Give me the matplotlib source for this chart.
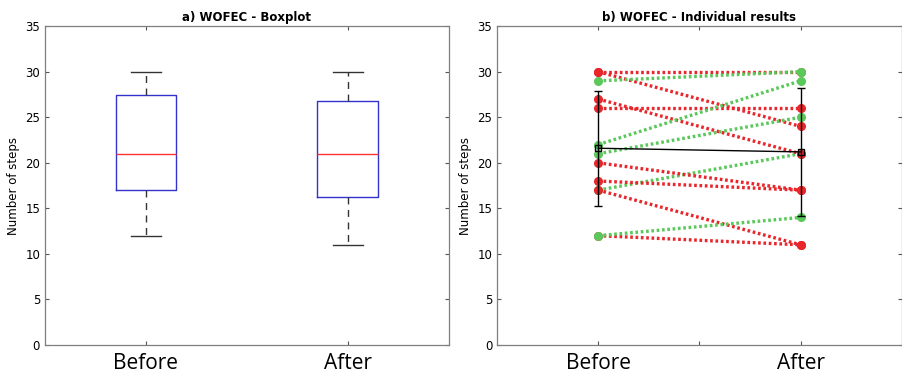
import matplotlib.pyplot as plt

# box statistics
groups = ["Before", "After"]
q1 = [17.0, 16.3]
q3 = [27.5, 26.8]
medians = [21.0, 21.0]
whisk_lo = [12, 11]
whisk_hi = [30, 30]

# individual subjects (before -> after)
before = [17, 30, 30, 27, 26, 20, 18, 17, 12, 29, 22, 21, 12]
after = [21, 30, 24, 21, 26, 17, 17, 11, 11, 30, 29, 25, 14]

# mean and error bars from the right panel
means = [21.6, 21.2]
errs = [6.3, 7.0]

RED = "#e8262b"
GREEN = "#5ac85a"

fig = plt.figure(figsize=(9.03, 3.80), dpi=100)
ax1 = fig.add_axes([0.0498, 0.0921, 0.447, 0.839])
ax2 = fig.add_axes([0.5505, 0.0921, 0.448, 0.839])


def style(ax):
    ax.set_ylim(0, 35)
    ax.set_xlim(0.5, 2.5)
    ax.set_yticks(range(0, 36, 5))
    ax.tick_params(direction="in", top=True, right=True, length=3,
                   color="#555555", labelsize=8.5)
    ax.tick_params(axis="x", labelsize=15, pad=6)
    for s in ax.spines.values():
        s.set_color("#7f7f7f")
        s.set_linewidth(0.9)
    for lbl in ax.get_xticklabels():
        lbl.set_family("Open Sans")
    ax.set_ylabel("Number of steps", fontsize=8.5, labelpad=4)


# left: boxplot
stats = []
for i in range(2):
    stats.append(dict(med=medians[i], q1=q1[i], q3=q3[i],
                      whislo=whisk_lo[i], whishi=whisk_hi[i], fliers=[]))
ax1.bxp(stats, positions=[1, 2], widths=0.3,
        boxprops=dict(color="#3333cc", linewidth=1),
        medianprops=dict(color="#ff3333", linewidth=1),
        whiskerprops=dict(color="#333333", linestyle=(0, (5, 4)), linewidth=1),
        capprops=dict(color="#333333", linewidth=1),
        capwidths=0.15)
ax1.set_xticks([1, 2])
ax1.set_xticklabels(groups)
ax1.set_title("a) WOFEC - Boxplot", fontsize=8.5, fontweight="bold", pad=4)
style(ax1)

# right: individual results
for b, a in zip(before, after):
    c = GREEN if a > b else RED
    ax2.plot([1, 2], [b, a], linestyle=(0, (0.8, 0.8)), color=c,
             linewidth=2.4, marker="o", markersize=5.5, markerfacecolor=c,
             markeredgecolor=c, zorder=2)
ax2.errorbar([1, 2], means, yerr=errs, color="black", linewidth=1,
             marker="s", markersize=5, markerfacecolor="none",
             capsize=3, zorder=3)
ax2.set_xticks([1, 1.5, 2])
ax2.set_xticklabels(["Before", "", "After"])
ax2.set_title("b) WOFEC - Individual results", fontsize=8.5,
              fontweight="bold", pad=4)
style(ax2)

plt.savefig("out.png", dpi=100)
